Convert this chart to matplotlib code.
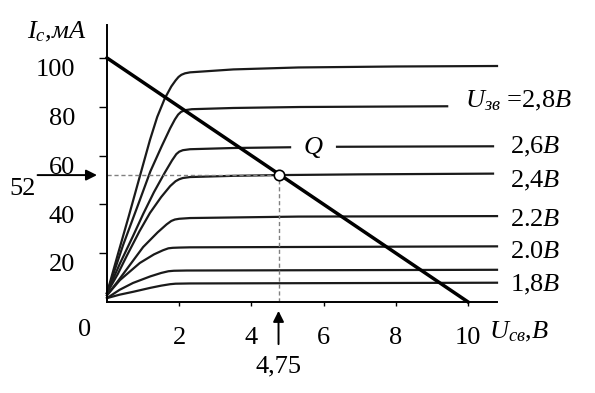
import matplotlib.pyplot as plt
from matplotlib.transforms import ScaledTranslation

plt.rcParams['font.family'] = ['Liberation Serif', 'DejaVu Serif']
plt.rcParams['mathtext.fontset'] = 'custom'
plt.rcParams['mathtext.rm'] = 'Liberation Serif'
plt.rcParams['mathtext.it'] = 'Liberation Serif:italic'

# output characteristics, U_cв (V) vs I_c (mA)
u_top = [0, 0.3, 0.6, 0.9, 1.19, 1.39, 1.6, 1.78, 1.9, 1.98, 2.06, 2.16, 2.3, 3.5, 5.3, 8, 10.8]
i_top = [3.7, 19.5, 35, 51, 66.4, 75.8, 83.4, 88.3, 90.8, 92.2, 93.1, 93.7, 94.1, 95.3, 96.1, 96.5, 96.7]
u_28 = [0, 0.45, 0.91, 1.2, 1.52, 1.75, 1.88, 1.97, 2.05, 2.16, 2.35, 3.5, 5.35, 9.42]
i_28 = [3.7, 23.5, 41.8, 53.5, 64, 71.2, 74.8, 76.8, 77.9, 78.6, 79.0, 79.5, 79.9, 80.2]
# the 2,6 curve is broken where the Q label sits
u_26a = [0, 0.35, 0.72, 1.0, 1.3, 1.6, 1.8, 1.92, 2.0, 2.1, 2.3, 3.5, 5.07]
i_26a = [3.7, 15.5, 27, 36, 45, 53, 58, 60.6, 61.6, 62.2, 62.6, 63.1, 63.4]
u_26b = [6.37, 8.5, 10.69]
i_26b = [63.6, 63.7, 63.8]
u_24 = [0, 0.3, 0.55, 0.9, 1.19, 1.5, 1.75, 1.9, 2.0, 2.1, 2.3, 3.5, 4.75, 7, 10.69]
i_24 = [3.7, 11.5, 19, 29, 36.5, 43, 47.5, 49.5, 50.3, 50.8, 51.2, 51.7, 52, 52.3, 52.6]
u_22 = [0, 0.3, 0.55, 1.0, 1.4, 1.65, 1.78, 1.88, 2.0, 2.3, 5.3, 10.8]
i_22 = [2.8, 8.5, 13.5, 22.5, 28.5, 31.8, 33.2, 33.8, 34.1, 34.4, 35, 35.2]
u_20 = [0, 0.36, 0.91, 1.3, 1.55, 1.7, 1.82, 2.0, 2.3, 10.8]
i_20 = [2.8, 9, 16, 19.5, 21.2, 22.0, 22.2, 22.3, 22.4, 22.8]
u_19 = [0, 0.35, 0.72, 1.2, 1.5, 1.7, 1.85, 2.2, 10.8]
i_19 = [1.6, 5.0, 7.8, 10.5, 11.9, 12.6, 12.8, 12.9, 13.2]
u_18 = [0, 0.35, 0.73, 1.2, 1.5, 1.75, 1.9, 2.3, 10.8]
i_18 = [1.6, 3.0, 4.2, 5.8, 6.7, 7.3, 7.5, 7.6, 7.9]

# load line and operating point
load_u = [0, 10]
load_i = [100, 0]
q_u, q_i = 4.75, 52
q_label = (5.72, 63.5)

labels = ['$U_{зв}$ =2,8$В$', '2,6$В$', '2,4$В$', '2.2$В$', '2.0$В$', '1,8$В$']
label_u = [9.92, 11.16, 11.16, 11.16, 11.16, 11.16]
label_i = [82.5, 63.5, 49.5, 33.6, 20.5, 7.0]

xticks = [2, 4, 6, 8, 10]
yticks = [20, 40, 60, 80, 100]

fig = plt.figure(figsize=(5.95, 3.93), dpi=100)
ax = fig.add_axes([107/595, 91/393, 390/595, 277/393])
ax.set_xlim(0, 10.8)
ax.set_ylim(0, 113.5)

curve_kw = dict(color='#1a1a1a', lw=1.6, clip_on=False,
                solid_joinstyle='round')
for u, i in [(u_top, i_top), (u_28, i_28), (u_26a, i_26a), (u_26b, i_26b),
             (u_24, i_24), (u_22, i_22), (u_20, i_20), (u_19, i_19),
             (u_18, i_18)]:
    ax.plot(u, i, **curve_kw)
ax.text(q_label[0], q_label[1], '$Q$', fontsize=19, ha='center', va='center')

ax.plot(load_u, load_i, color='black', lw=2.5, clip_on=False, zorder=4)

ax.plot([0, q_u], [q_i, q_i], color='#808080', lw=1, ls=(0, (3, 2)))
ax.plot([q_u, q_u], [0, q_i], color='#808080', lw=1, ls=(0, (3, 2)))
ax.plot(q_u, q_i, 'o', ms=7.5, mfc='white', mec='black', mew=1.2, zorder=6)

for txt, x, y in zip(labels, label_u, label_i):
    ax.text(x, y, txt, fontsize=19, ha='left', va='center')

arrow = dict(arrowstyle='-|>', color='black', lw=1.4, mutation_scale=16)
ax.annotate('', xy=(-0.2, q_i), xytext=(-2.0, q_i), arrowprops=arrow,
            annotation_clip=False)
ax.text(-2.35, q_i - 5.5, '52', fontsize=19, ha='center', va='center')
ax.annotate('', xy=(q_u, -2.5), xytext=(q_u, -18.4), arrowprops=arrow,
            annotation_clip=False)
ax.text(q_u, -26.6, '4,75', fontsize=19, ha='center', va='center')

ax.text(-0.61, -11.5, '0', fontsize=19, ha='center', va='center')
ax.text(-1.39, 110.7, '$I_c$,мА', fontsize=19, style='italic',
        ha='center', va='center')
ax.text(11.4, -12.3, '$U_{св}$,$В$', fontsize=19, ha='center', va='center')

for s in ['top', 'right']:
    ax.spines[s].set_visible(False)
for s in ['left', 'bottom']:
    ax.spines[s].set_linewidth(1.4)

ax.set_xticks(xticks)
ax.set_yticks(yticks)
ax.tick_params(axis='y', direction='out', length=6, width=1, pad=17,
               labelsize=19)
ax.tick_params(axis='x', direction='out', length=3, width=1, pad=15,
               labelsize=19)
shift = ScaledTranslation(0, -7/72, fig.dpi_scale_trans)
for lbl in ax.get_yticklabels():
    lbl.set_transform(lbl.get_transform() + shift)

fig.savefig('out.png', dpi=100)
